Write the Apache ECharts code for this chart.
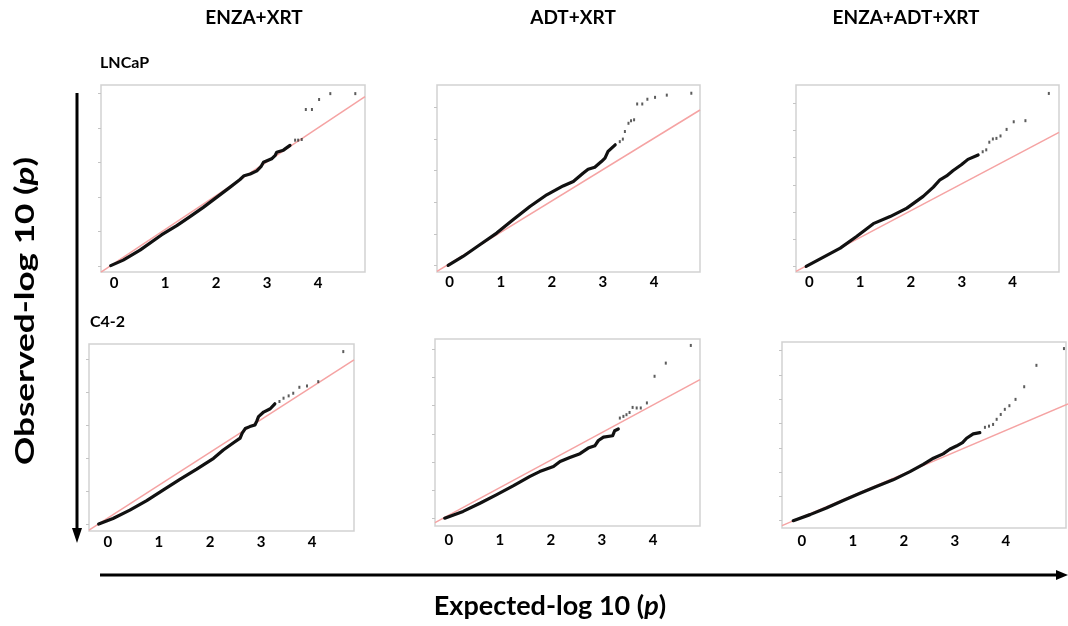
<!DOCTYPE html>
<html>
<head>
<meta charset="utf-8">
<script src="https://cdn.jsdelivr.net/npm/echarts@6/dist/echarts.min.js"></script>
<style>
html,body{margin:0;padding:0;background:#fff;}
#chart{width:1068px;height:626px;}
</style>
</head>
<body>
<div id="chart"></div>
<script>
// ---------- DATA ----------
const colTitles = ['ENZA+XRT', 'ADT+XRT', 'ENZA+ADT+XRT'];
const rowTitles = ['LNCaP', 'C4-2'];
const xTickLabels = [0, 1, 2, 3, 4];
const xAxisTitle = ['Expected-log 10 (', 'p', ')'];
const yAxisTitle = ['Observed-log 10 (', 'p', ')'];

// LNCaP / ENZA+XRT
const lncapEnzaCurve = [[-0.065,0.01],[0.18,0.17],[0.51,0.46],[0.93,0.90],[1.23,1.17],[1.49,1.43],[1.75,1.70],[2.01,1.99],[2.27,2.28],[2.47,2.51],[2.55,2.62],[2.67,2.67],[2.80,2.76],[2.88,2.88],[2.93,3.01],[3.09,3.11],[3.16,3.21],[3.19,3.30],[3.32,3.36],[3.45,3.50]];
const lncapEnzaTail = [[3.55,3.65],[3.61,3.65],[3.68,3.67],[3.76,4.54],[3.88,4.54],[4.02,4.83],[4.24,5.0],[4.73,5.0]];
const lncapEnzaRef = [[-0.255,-0.18],[4.92,4.91]];

// LNCaP / ADT+XRT
const lncapAdtCurve = [[-0.03,0.01],[0.26,0.29],[0.59,0.66],[0.92,1.03],[1.24,1.45],[1.57,1.87],[1.90,2.24],[2.22,2.52],[2.42,2.66],[2.61,2.92],[2.71,3.05],[2.84,3.11],[2.97,3.29],[3.04,3.40],[3.10,3.61],[3.24,3.82]];
const lncapAdtTail = [[3.33,3.92],[3.39,4.0],[3.43,4.24],[3.50,4.50],[3.55,4.58],[3.61,4.61],[3.67,5.11],[3.77,5.11],[3.87,5.26],[4.02,5.32],[4.25,5.39],[4.73,5.45]];
const lncapAdtRef = [[-0.248,-0.18],[4.90,4.92]];

// LNCaP / ENZA+ADT+XRT
const lncapComboCurve = [[-0.06,0.01],[0.28,0.35],[0.61,0.68],[0.93,1.11],[1.26,1.58],[1.59,1.84],[1.92,2.15],[2.24,2.58],[2.44,2.92],[2.57,3.19],[2.70,3.33],[2.83,3.53],[2.99,3.74],[3.12,3.94],[3.32,4.10]];
const lncapComboTail = [[3.41,4.22],[3.48,4.29],[3.54,4.57],[3.61,4.69],[3.68,4.71],[3.76,4.80],[3.88,5.04],[4.02,5.32],[4.25,5.36],[4.71,6.36]];
const lncapComboRef = [[-0.26,-0.17],[4.91,4.93]];

// C4-2 / ENZA+XRT
const c42EnzaCurve = [[-0.18,0.0],[0.10,0.17],[0.43,0.42],[0.76,0.71],[1.08,1.03],[1.41,1.35],[1.74,1.66],[2.07,1.99],[2.26,2.24],[2.46,2.46],[2.59,2.60],[2.63,2.75],[2.69,2.89],[2.78,2.95],[2.88,3.00],[2.92,3.13],[2.95,3.25],[3.05,3.39],[3.18,3.49],[3.27,3.64]];
const c42EnzaTail = [[3.36,3.71],[3.44,3.81],[3.54,3.88],[3.63,3.96],[3.75,4.14],[3.90,4.18],[4.12,4.31],[4.61,5.22]];
const c42EnzaRef = [[-0.37,-0.18],[4.82,4.97]];

// C4-2 / ADT+XRT
const c42AdtCurve = [[-0.08,-0.01],[0.28,0.23],[0.61,0.52],[0.93,0.82],[1.26,1.14],[1.59,1.48],[1.78,1.65],[2.05,1.83],[2.18,2.01],[2.37,2.15],[2.57,2.29],[2.73,2.49],[2.86,2.57],[2.93,2.76],[3.03,2.88],[3.21,2.93],[3.25,3.11],[3.32,3.17]];
const c42AdtTail = [[3.35,3.56],[3.42,3.62],[3.48,3.68],[3.54,3.76],[3.60,3.94],[3.68,3.92],[3.76,3.92],[3.88,4.10],[4.03,5.05],[4.25,5.52],[4.74,6.15]];
const c42AdtRef = [[-0.27,-0.17],[4.92,4.93]];

// C4-2 / ENZA+ADT+XRT
const c42ComboCurve = [[-0.17,0.0],[0.16,0.25],[0.48,0.52],[0.81,0.83],[1.14,1.13],[1.46,1.41],[1.79,1.68],[2.12,2.02],[2.38,2.32],[2.58,2.57],[2.77,2.75],[2.90,2.94],[3.03,3.07],[3.15,3.21],[3.23,3.39],[3.36,3.57],[3.49,3.62]];
const c42ComboTail = [[3.59,3.84],[3.67,3.89],[3.75,3.96],[3.82,4.17],[3.90,4.37],[3.98,4.58],[4.07,4.73],[4.19,4.99],[4.36,5.51],[4.60,6.39],[5.14,7.08]];
const c42ComboRef = [[-0.39,-0.20],[5.22,4.80]];

// ---------- LAYOUT ----------
const panels = [
  {curve: lncapEnzaCurve, tail: lncapEnzaTail, ref: lncapEnzaRef, box:[101,85,365,272], x:[-0.255,4.92], y:[-0.174,5.25], yt:5, m:4},
  {curve: lncapAdtCurve, tail: lncapAdtTail, ref: lncapAdtRef, box:[437,85,700,272], x:[-0.248,4.90], y:[-0.20,5.71], yt:5, m:3},
  {curve: lncapComboCurve, tail: lncapComboTail, ref: lncapComboRef, box:[796,85,1059,272], x:[-0.26,4.91], y:[-0.195,6.67], yt:6, m:3},
  {curve: c42EnzaCurve, tail: c42EnzaTail, ref: c42EnzaRef, box:[89,344,354,531], x:[-0.37,4.82], y:[-0.21,5.45], yt:5, m:4},
  {curve: c42AdtCurve, tail: c42AdtTail, ref: c42AdtRef, box:[435,339,700,526], x:[-0.27,4.92], y:[-0.29,6.38], yt:6, m:7},
  {curve: c42ComboCurve, tail: c42ComboTail, ref: c42ComboRef, box:[782,342,1066,528], x:[-0.39,5.18], y:[-0.30,7.35], yt:7, m:6}
];

const FONT = 'Lato, "Open Sans", sans-serif';
const grid = [], xAxis = [], yAxis = [], series = [];
panels.forEach((p, i) => {
  const [l, t, r, b] = p.box;
  grid.push({left: l, top: t, width: r - l, height: b - t, show: true,
    borderColor: '#d2d2d2', borderWidth: 1.5, backgroundColor: '#fff', containLabel: false});
  xAxis.push({type: 'value', gridIndex: i, min: p.x[0], max: p.x[1], position: 'bottom',
    axisLine: {show: false, onZero: false}, axisTick: {show: false}, splitLine: {show: false},
    axisLabel: {customValues: xTickLabels, margin: p.m, fontSize: 15, fontWeight: 'bold',
      fontFamily: FONT, color: '#000'}});
  const yticks = [];
  for (let k = 0; k <= p.yt; k++) yticks.push(k);
  yAxis.push({type: 'value', gridIndex: i, min: p.y[0], max: p.y[1], position: 'left',
    axisLine: {show: false, onZero: false}, splitLine: {show: false}, axisLabel: {show: false},
    axisTick: {show: true, customValues: yticks, length: 3, inside: false,
      lineStyle: {color: '#c4c4c4', width: 1}}});
  series.push({type: 'line', xAxisIndex: i, yAxisIndex: i, data: p.ref, showSymbol: false,
    lineStyle: {color: '#f5a3a3', width: 1.5}, silent: true, z: 2});
  series.push({type: 'line', xAxisIndex: i, yAxisIndex: i, data: p.curve, showSymbol: false,
    lineStyle: {color: '#111', width: 3.2, cap: 'round', join: 'round'}, silent: true, z: 3});
  series.push({type: 'scatter', xAxisIndex: i, yAxisIndex: i, data: p.tail, symbol: 'rect',
    symbolSize: [2, 3], itemStyle: {color: '#333'}, silent: true, z: 3});
});

const titleStyle = (txt, x, y, size) => ({type: 'text', x: x, y: y,
  style: {text: txt, font: 'bold ' + size + 'px ' + FONT, fill: '#000', align: 'center', verticalAlign: 'middle'}});
const richTitle = (parts) => '{n|' + parts[0] + '}{i|' + parts[1] + '}{n|' + parts[2] + '}';
const richStyles = (size) => ({n: {font: 'bold ' + size + 'px ' + FONT, fill: '#000'},
  i: {font: 'italic bold ' + size + 'px ' + FONT, fill: '#000'}});

const graphic = [
  titleStyle(colTitles[0], 254, 18, 19),
  titleStyle(colTitles[1], 573, 18, 19),
  titleStyle(colTitles[2], 906, 18, 19),
  {type: 'text', x: 100, y: 63, style: {text: rowTitles[0], font: 'bold 16px ' + FONT, fill: '#000', align: 'left', verticalAlign: 'middle'}},
  {type: 'text', x: 90, y: 322, style: {text: rowTitles[1], font: 'bold 16px ' + FONT, fill: '#000', align: 'left', verticalAlign: 'middle'}},
  // vertical arrow
  {type: 'line', shape: {x1: 77, y1: 93, x2: 77, y2: 530}, style: {stroke: '#000', lineWidth: 3}},
  {type: 'polygon', shape: {points: [[72, 528], [82, 528], [77, 543]]}, style: {fill: '#000'}},
  // horizontal arrow
  {type: 'line', shape: {x1: 100, y1: 575, x2: 1058, y2: 575}, style: {stroke: '#000', lineWidth: 3}},
  {type: 'polygon', shape: {points: [[1056, 570], [1056, 580], [1068, 575]]}, style: {fill: '#000'}},
  // axis titles
  {type: 'text', x: 550, y: 606, style: {text: richTitle(xAxisTitle), align: 'center', verticalAlign: 'middle', rich: richStyles(27)}},
  {type: 'text', x: 25, y: 311, rotation: Math.PI / 2, scaleX: 1.3, scaleY: 1,
    style: {text: richTitle(yAxisTitle), align: 'center', verticalAlign: 'middle', rich: richStyles(27)}}
];

const chart = echarts.init(document.getElementById('chart'), null, {renderer: 'canvas'});
chart.setOption({animation: false, backgroundColor: '#fff', grid, xAxis, yAxis, series, graphic});
</script>
</body>
</html>
